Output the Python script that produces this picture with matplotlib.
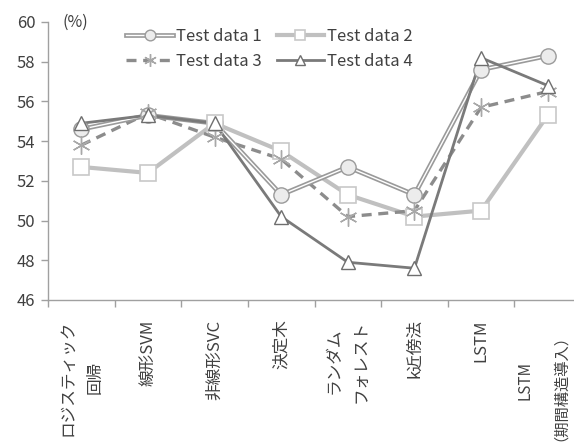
import matplotlib
matplotlib.use("Agg")
import matplotlib.pyplot as plt
import matplotlib.patheffects as pe
import matplotlib.transforms as mtransforms
import numpy as np

plt.rcParams['font.family'] = ['Noto Sans CJK JP', 'DejaVu Sans']

categories = ["ロジスティック\n回帰", "線形SVM", "非線形SVC", "決定木",
              "ランダム\nフォレスト", "k近傍法", "LSTM", "LSTM\n（期間構造導入）"]
test1 = [54.6, 55.3, 54.9, 51.3, 52.7, 51.3, 57.6, 58.3]
test2 = [52.7, 52.4, 54.9, 53.5, 51.3, 50.2, 50.5, 55.3]
test3 = [53.8, 55.4, 54.2, 53.1, 50.2, 50.5, 55.7, 56.5]
test4 = [54.9, 55.3, 54.9, 50.2, 47.9, 47.6, 58.2, 56.8]
series_names = ["Test data 1", "Test data 2", "Test data 3", "Test data 4"]
yticks = [46, 48, 50, 52, 54, 56, 58, 60]

W, H = 574, 446
fig = plt.figure(figsize=(W / 100, H / 100), dpi=100)
ax = fig.add_axes([48 / W, (H - 300) / H, (581 - 48) / W, 278 / H])

x = np.arange(len(categories))

# Test data 1: double (compound) line with light-filled circles
l1 = ax.plot(x, test1, color='white', lw=1.0, zorder=3,
             path_effects=[pe.Stroke(linewidth=3.4, foreground='#9a9a9a'), pe.Normal()])[0]
m1 = ax.plot(x, test1, ls='none', marker='o', ms=11, mfc='#ececec', mec='#9a9a9a', mew=1.0, zorder=4)[0]

# Test data 2: thick light line with open squares
l2 = ax.plot(x, test2, color='#c0c0c0', lw=3.0, zorder=2)[0]
m2 = ax.plot(x, test2, ls='none', marker='s', ms=11, mfc='white', mec='#c8c8c8', mew=1.2, zorder=4)[0]

# Test data 3: dashed line with asterisk markers
l3 = ax.plot(x, test3, color='#8c8c8c', lw=2.4, ls=(0, (3, 2)), zorder=2)[0]
m3 = ax.plot(x, test3, ls='none', marker=(6, 2, 0), ms=13, mec='#a8a8a8', mew=1.0, zorder=4)[0]

# Test data 4: darker line with open triangles
l4 = ax.plot(x, test4, color='#7a7a7a', lw=2.0, zorder=3)[0]
m4 = ax.plot(x, test4, ls='none', marker='^', ms=10, mfc='white', mec='#6e6e6e', mew=1.0, zorder=5)[0]

ax.set_xlim(-0.5, len(categories) - 0.5)
ax.set_ylim(46, 60)
ax.set_yticks(yticks)
ax.set_yticklabels([str(v) for v in yticks], fontsize=12, color='#404040')

ax.set_xticks(x)
ax.set_xticklabels(categories, rotation=90, va='top', ha='center',
                   multialignment='center', fontsize=12, color='#404040', linespacing=1.8)
ax.set_xticks(np.arange(len(categories) + 1) - 0.5, minor=True)
ax.tick_params(axis='x', which='major', length=0, pad=14)
ax.tick_params(axis='x', which='minor', length=5, color='#a0a0a0', width=1)
ax.tick_params(axis='y', length=5, color='#a0a0a0', width=1, pad=4)

# the last (two-line) category label: slightly smaller and nudged left to fit the figure
last = ax.get_xticklabels()[-1]
last.set_fontsize(11)
last.set_linespacing(1.8)
last.set_transform(last.get_transform() +
                   mtransforms.ScaledTranslation(-9 / 100, 0, fig.dpi_scale_trans))

for s in ['top', 'right']:
    ax.spines[s].set_visible(False)
for s in ['left', 'bottom']:
    ax.spines[s].set_color('#a0a0a0')
    ax.spines[s].set_linewidth(1)

fig.text(62 / W, (H - 22) / H, "(%)", fontsize=11.5, color='#404040', va='center', ha='left')

# legend filled row by row: (1, 2) on top, (3, 4) below
handles = [(l1, m1), (l2, m2), (l3, m3), (l4, m4)]
order = [0, 2, 1, 3]
leg = ax.legend([handles[i] for i in order], [series_names[i] for i in order],
                ncol=2, loc='upper left', bbox_to_anchor=(118 / W, (H - 20) / H),
                bbox_transform=fig.transFigure, frameon=False, fontsize=12,
                handlelength=2.8, handletextpad=0.2, columnspacing=0.9,
                labelspacing=0.45, borderpad=0, labelcolor='#404040', markerscale=0.7)

fig.savefig("out.png", dpi=100)
